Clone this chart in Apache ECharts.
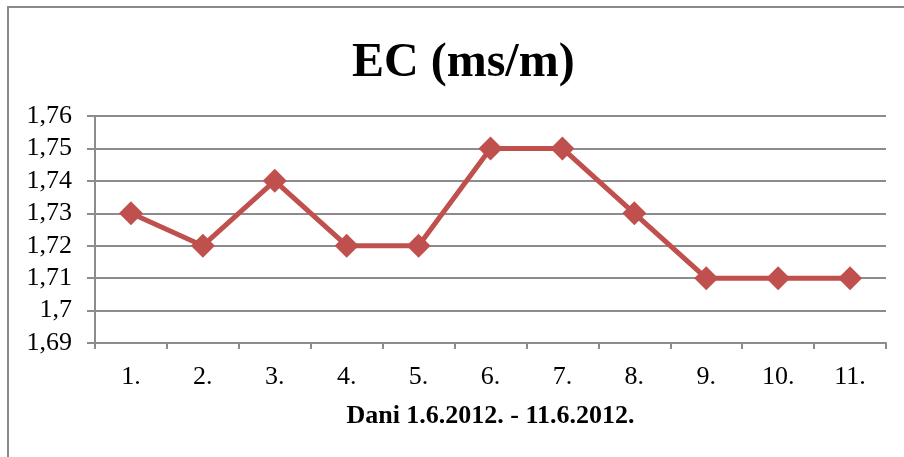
<!DOCTYPE html>
<html>
<meta charset="utf-8" />
<head>
  <script src="https://cdn.jsdelivr.net/npm/echarts@6.0.0/dist/echarts.min.js"></script>
  <style>
    html, body { margin: 0; padding: 0; background: #fff; }
    .chart { width: 904px; height: 457px; }
  </style>
</head>
<body>
  <div class="chart" id="ec-chart"></div>
  <script>
    const days = ["1.", "2.", "3.", "4.", "5.", "6.", "7.", "8.", "9.", "10.", "11."];
    const ecValues = [1.73, 1.72, 1.74, 1.72, 1.72, 1.75, 1.75, 1.73, 1.71, 1.71, 1.71];
    const title = "EC (ms/m)";
    const xName = "Dani 1.6.2012. - 11.6.2012.";

    const font = "'Liberation Serif', 'Times New Roman', serif";
    const gridColor = "#8c8c8c";

    const myChart = echarts.init(document.getElementById("ec-chart"));
    const option = {
      backgroundColor: "#fff",
      animation: false,
      textStyle: { fontFamily: font, color: "#000" },
      title: {
        text: title,
        left: 347,
        top: 35,
        textStyle: { fontFamily: font, fontSize: 48, fontWeight: "bold", color: "#000" }
      },
      graphic: [{
        type: "rect",
        shape: { x: 8, y: 7, width: 1000, height: 1000 },
        style: { fill: "none", stroke: "#8a8a8a", lineWidth: 2 },
        silent: true
      }],
      grid: { left: 95, right: 18, top: 116, bottom: 114 },
      xAxis: {
        type: "category",
        data: days,
        boundaryGap: true,
        name: xName,
        nameLocation: "middle",
        nameGap: 60,
        nameTextStyle: { fontFamily: font, fontSize: 26, fontWeight: "bold", color: "#000" },
        axisLine: { lineStyle: { color: gridColor, width: 2 } },
        axisTick: { show: true, length: 6, lineStyle: { color: gridColor, width: 2 } },
        axisLabel: { fontFamily: font, fontSize: 26, color: "#000", margin: 21 }
      },
      yAxis: {
        type: "value",
        min: 1.69,
        max: 1.76,
        interval: 0.01,
        axisLine: { show: true, lineStyle: { color: gridColor, width: 2 } },
        axisTick: { show: true, length: 8, lineStyle: { color: gridColor, width: 2 } },
        splitLine: { lineStyle: { color: gridColor, width: 2 } },
        axisLabel: {
          fontFamily: font, fontSize: 26, color: "#000", margin: 23,
          formatter: (v) => String(+v.toFixed(2)).replace(".", ",")
        }
      },
      series: [{
        type: "line",
        data: ecValues,
        symbol: "diamond",
        symbolSize: 24,
        lineStyle: { color: "#c0504d", width: 5 },
        itemStyle: { color: "#c0504d" }
      }]
    };
    myChart.setOption(option);
  </script>
</body>
</html>
